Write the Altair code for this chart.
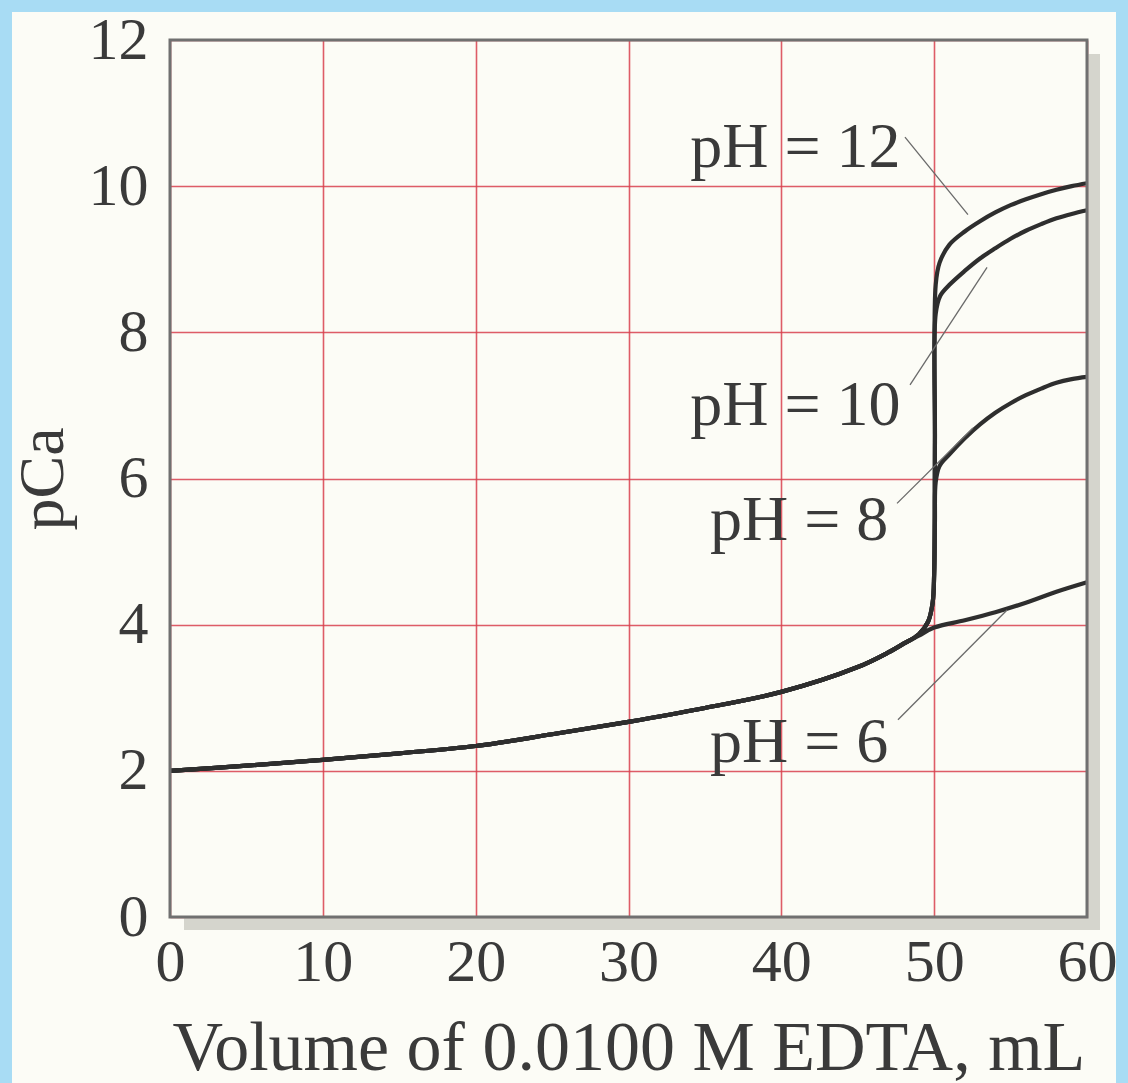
import altair as alt
import pandas as pd

# ---- data ----
common_x = [0, 5, 10, 15, 20, 25, 30, 35, 40, 45, 47, 48]
common_y = [2.0, 2.07, 2.15, 2.24, 2.34, 2.5, 2.67, 2.86, 3.08, 3.42, 3.62, 3.74]

ph6_x = [49, 50, 52, 54, 56, 58, 60]
ph6_y = [3.85, 3.96, 4.06, 4.17, 4.3, 4.45, 4.58]

steep_x = [49, 49.6, 49.9, 50.0]
steep_y = [3.87, 4.04, 4.3, 4.7]

ph8_x = [50.05, 50.1, 50.35, 51, 52, 53, 54, 55, 56, 57, 58, 59, 60]
ph8_y = [5.4, 5.95, 6.17, 6.33, 6.55, 6.74, 6.9, 7.03, 7.14, 7.23, 7.31, 7.36, 7.39]

ph10_x = [50.05, 50.1, 50.4, 51, 52, 53, 54, 55, 56, 57, 58, 59, 60]
ph10_y = [6.5, 8.25, 8.5, 8.65, 8.84, 9.01, 9.15, 9.28, 9.39, 9.48, 9.56, 9.62, 9.67]

ph12_x = [50.05, 50.1, 50.35, 51, 52, 53, 54, 55, 56, 57, 58, 59, 60]
ph12_y = [6.5, 8.65, 8.95, 9.2, 9.38, 9.52, 9.64, 9.74, 9.82, 9.89, 9.95, 10.0, 10.04]

label_text = ["pH = 12", "pH = 10", "pH = 8", "pH = 6"]
label_x = [47.8, 47.8, 47.0, 47.0]
label_y = [10.26, 6.73, 5.16, 2.12]

leader_x = [48.09, 48.42, 47.57, 47.63]
leader_y = [10.67, 7.28, 5.66, 2.70]
leader_x2 = [52.21, 53.46, 52.54, 54.77]
leader_y2 = [9.61, 8.89, 6.69, 4.20]

x_ticks = [0, 10, 20, 30, 40, 50, 60]
y_ticks = [0, 2, 4, 6, 8, 10, 12]

# ---- build tables ----
rows = []
def add(series, xs, ys):
    for i, (a, b) in enumerate(zip(xs, ys)):
        rows.append({"series": series, "x": a, "y": b, "order": i})

add("pH 6", common_x + ph6_x, common_y + ph6_y)
for name, bx, by in [("pH 8", ph8_x, ph8_y), ("pH 10", ph10_x, ph10_y), ("pH 12", ph12_x, ph12_y)]:
    add(name, common_x + steep_x + bx, common_y + steep_y + by)
curves = pd.DataFrame(rows)

labels = pd.DataFrame({"t": label_text, "x": label_x, "y": label_y})
leaders = pd.DataFrame({"x": leader_x, "y": leader_y, "x2": leader_x2, "y2": leader_y2})

W, H = 917, 877
FONT = "Liberation Serif"
TEXT = "#3a3a3a"

xscale = alt.Scale(domain=[0, 60], nice=False, zero=False)
yscale = alt.Scale(domain=[0, 12], nice=False, zero=False)

x_axis = alt.Axis(values=x_ticks, format="d", title="Volume of 0.0100 M EDTA, mL", grid=True,
                  gridColor="#d8404e", gridWidth=1.6, gridOpacity=0.85,
                  domain=False, ticks=False, labelFont=FONT, labelFontSize=60,
                  labelColor=TEXT, labelPadding=16, titleFont=FONT,
                  titleFontSize=70, titleFontWeight="normal", titleColor=TEXT,
                  titleY=152, titleBaseline="alphabetic", labelFlush=False)
y_axis = alt.Axis(values=y_ticks, format="d", title="pCa", grid=True,
                  gridColor="#d8404e", gridWidth=1.6, gridOpacity=0.85,
                  domain=False, ticks=False, labelFont=FONT, labelFontSize=60,
                  labelColor=TEXT, labelPadding=22, titleFont=FONT,
                  titleFontSize=64, titleFontWeight="normal", titleColor=TEXT,
                  titleX=-108, titleBaseline="alphabetic", labelFlush=False)

one = pd.DataFrame({"a": [0]})

border = alt.Chart(one).mark_rect(fill=None, stroke="#a8dcf4", strokeWidth=24).encode(
    x=alt.value(-170), x2=alt.value(958), y=alt.value(-40), y2=alt.value(1070))

frame = alt.Chart(one).mark_rect(fill=None, stroke="#707070", strokeWidth=3).encode(
    x=alt.value(0), x2=alt.value(W), y=alt.value(0), y2=alt.value(H))

shadow_r = alt.Chart(one).mark_rule(color="#c4c4bc", strokeWidth=12, opacity=0.7).encode(
    x=alt.value(W + 7), y=alt.value(14), y2=alt.value(H + 13))
shadow_b = alt.Chart(one).mark_rule(color="#c4c4bc", strokeWidth=12, opacity=0.7).encode(
    y=alt.value(H + 7), x=alt.value(14), x2=alt.value(W + 1))

lines = alt.Chart(curves).mark_line(color="#2e2e2e", strokeWidth=4.2,
                                    interpolate="catmull-rom").encode(
    x=alt.X("x:Q", scale=xscale, axis=x_axis),
    y=alt.Y("y:Q", scale=yscale, axis=y_axis),
    detail="series:N",
    order="order:Q",
)

lead = alt.Chart(leaders).mark_rule(color="#6a6a6a", strokeWidth=1.3).encode(
    x=alt.X("x:Q", scale=xscale), y=alt.Y("y:Q", scale=yscale),
    x2="x2:Q", y2="y2:Q")

txt = alt.Chart(labels).mark_text(font=FONT, fontSize=64, align="right",
                                  baseline="alphabetic", color=TEXT).encode(
    x=alt.X("x:Q", scale=xscale), y=alt.Y("y:Q", scale=yscale), text="t:N")

chart = alt.layer(shadow_r, shadow_b, lines, lead, txt, frame, border).properties(
    width=W, height=H,
    autosize=alt.AutoSizeParams(type="none"),
    padding={"left": 170, "top": 40, "right": 41, "bottom": 166},
    background="#fcfcf6",
).configure_view(stroke=None, fill="#fcfcf6")

chart.save("out.html", embed_options={"renderer": "svg", "actions": False})
